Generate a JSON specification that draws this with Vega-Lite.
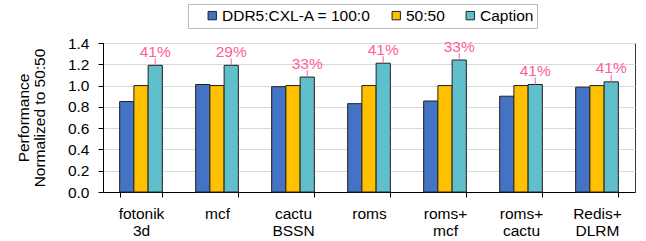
{
  "$schema": "https://vega.github.io/schema/vega-lite/v6.json",
  "width": 532,
  "height": 149,
  "autosize": {"type": "none"},
  "padding": {"left": 103, "top": 43, "right": 11, "bottom": 49},
  "config": {
    "font": "Liberation Sans",
    "view": {"stroke": "#333", "strokeWidth": 1},
    "axis": {"labelFont": "Liberation Sans", "titleFont": "Liberation Sans", "labelColor": "#000", "titleColor": "#000"},
    "legend": {"labelFont": "Liberation Sans", "titleFont": "Liberation Sans"}
  },
  "data": {
    "values": [
      {"app": "fotonik 3d", "cfg": "DDR5:CXL-A = 100:0", "v": 0.85},
      {"app": "fotonik 3d", "cfg": "50:50", "v": 1.0},
      {"app": "fotonik 3d", "cfg": "Caption", "v": 1.19, "pct": "41%"},
      {"app": "mcf", "cfg": "DDR5:CXL-A = 100:0", "v": 1.01},
      {"app": "mcf", "cfg": "50:50", "v": 1.0},
      {"app": "mcf", "cfg": "Caption", "v": 1.19, "pct": "29%"},
      {"app": "cactu BSSN", "cfg": "DDR5:CXL-A = 100:0", "v": 0.99},
      {"app": "cactu BSSN", "cfg": "50:50", "v": 1.0},
      {"app": "cactu BSSN", "cfg": "Caption", "v": 1.08, "pct": "33%"},
      {"app": "roms", "cfg": "DDR5:CXL-A = 100:0", "v": 0.83},
      {"app": "roms", "cfg": "50:50", "v": 1.0},
      {"app": "roms", "cfg": "Caption", "v": 1.21, "pct": "41%"},
      {"app": "roms+ mcf", "cfg": "DDR5:CXL-A = 100:0", "v": 0.855},
      {"app": "roms+ mcf", "cfg": "50:50", "v": 1.0},
      {"app": "roms+ mcf", "cfg": "Caption", "v": 1.24, "pct": "33%"},
      {"app": "roms+ cactu", "cfg": "DDR5:CXL-A = 100:0", "v": 0.9},
      {"app": "roms+ cactu", "cfg": "50:50", "v": 1.0},
      {"app": "roms+ cactu", "cfg": "Caption", "v": 1.01, "pct": "41%"},
      {"app": "Redis+ DLRM", "cfg": "DDR5:CXL-A = 100:0", "v": 0.985},
      {"app": "Redis+ DLRM", "cfg": "50:50", "v": 1.0},
      {"app": "Redis+ DLRM", "cfg": "Caption", "v": 1.035, "pct": "41%"}
    ]
  },
  "encoding": {
    "x": {
      "field": "app", "type": "nominal", "sort": null,
      "scale": {"paddingInner": 0.438, "paddingOuter": 0.219},
      "axis": {
        "title": null, "labelAngle": 0, "labelFontSize": 15.5,
        "labelExpr": "datum.value ? split(datum.value, ' ') : ''",
        "labelLineHeight": 17, "labelPadding": 9, "bandPosition": 0, "tickBand": "extent",
        "ticks": true, "tickSize": 5, "tickColor": "#000", "domainColor": "#000", "grid": false
      }
    },
    "y": {
      "field": "v", "type": "quantitative",
      "scale": {"domain": [0, 1.4], "nice": false},
      "axis": {
        "title": ["Performance", "Normalized to 50:50"], "titleFontSize": 15.5, "titleFontWeight": "normal",
        "titleLineHeight": 16, "titleX": -80, "titleBaseline": "middle", "titleAngle": -90,
        "values": [0, 0.2, 0.4, 0.6, 0.8, 1.0, 1.2, 1.4], "format": ".1f",
        "labelFontSize": 15.5, "tickSize": 5, "tickColor": "#000", "domainColor": "#000",
        "gridColor": "#d9d9d9", "labelPadding": 9
      }
    }
  },
  "layer": [
    {
      "mark": {"type": "bar", "stroke": "#222", "strokeWidth": 1},
      "encoding": {
        "xOffset": {"field": "cfg", "type": "nominal", "sort": ["DDR5:CXL-A = 100:0", "50:50", "Caption"], "scale": {"paddingInner": 0}},
        "color": {
          "field": "cfg", "type": "nominal", "sort": ["DDR5:CXL-A = 100:0", "50:50", "Caption"],
          "scale": {"domain": ["DDR5:CXL-A = 100:0", "50:50", "Caption"], "range": ["#4472C4", "#FFC000", "#5FBFCB"]},
          "legend": {
            "title": " ", "titleOrient": "left", "titlePadding": 13, "titleFontSize": 15.5,
            "orient": "none", "direction": "horizontal", "legendX": 85, "legendY": -39,
            "fillColor": "#fff", "strokeColor": "#bbb", "padding": 3.5,
            "symbolType": "square", "symbolSize": 70, "symbolStrokeColor": "#222", "symbolStrokeWidth": 1,
            "symbolOpacity": 1, "labelFontSize": 15.5, "labelColor": "#000", "columnPadding": 17, "labelOffset": 2,
            "labelExpr": "datum.label == 'Caption' ? 'Caption\u00a0\u00a0' : datum.label"
          }
        }
      }
    },
    {
      "transform": [{"filter": "datum.pct"}],
      "mark": {"type": "rule", "color": "#FF5C9E", "strokeWidth": 1, "y2Offset": -7, "xOffset": 14.2},
      "encoding": {"y": {"field": "v", "type": "quantitative"}, "y2": {"field": "v"}}
    },
    {
      "transform": [{"filter": "datum.pct"}],
      "mark": {"type": "text", "color": "#FF5C9E", "fontSize": 15.5, "baseline": "alphabetic", "dy": -8.5, "dx": 14.2},
      "encoding": {"y": {"field": "v", "type": "quantitative"}, "text": {"field": "pct"}}
    }
  ]
}
